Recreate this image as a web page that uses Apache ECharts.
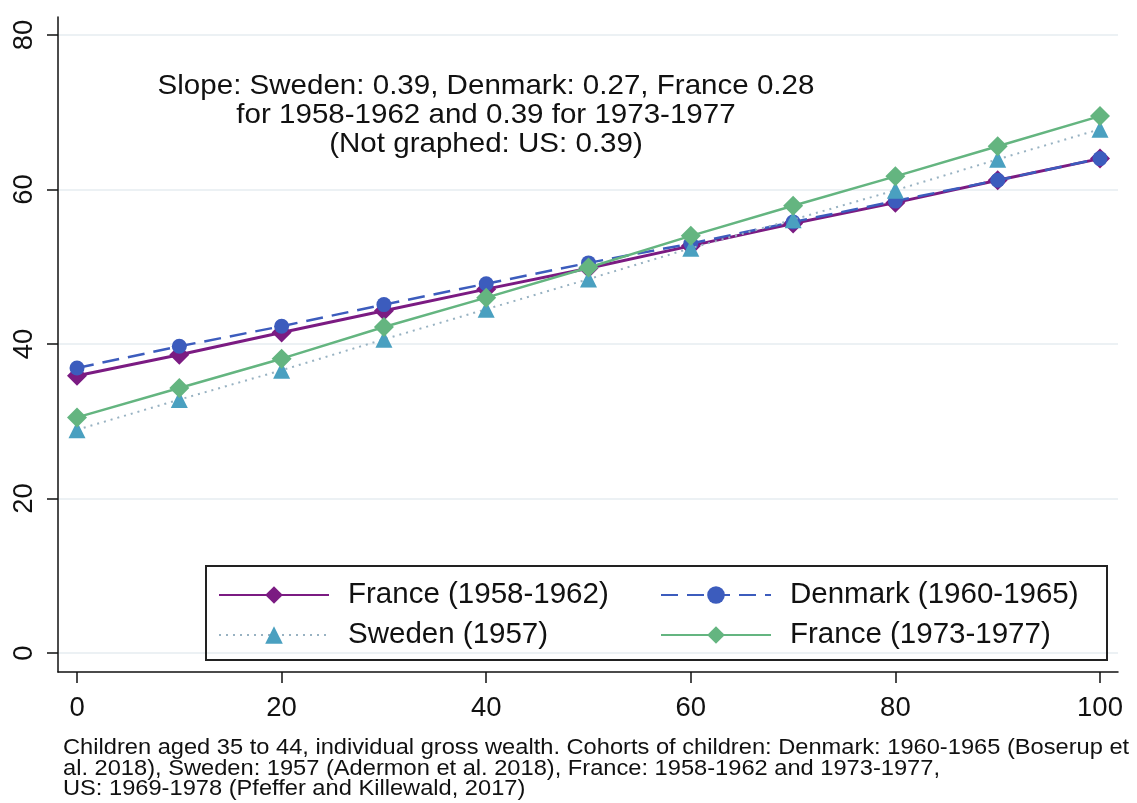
<!DOCTYPE html>
<html>
<head>
<meta charset="utf-8">
<script src="https://cdn.jsdelivr.net/npm/echarts@6/dist/echarts.min.js"></script>
<style>
  html, body { margin: 0; padding: 0; background: #fff; }
  #chart { width: 1137px; height: 803px; }
</style>
</head>
<body>
<div id="chart"></div>
<script>
// parent rank (percentile) on x, child rank on y
var xValues = [0, 10, 20, 30, 40, 50, 60, 70, 80, 90, 100];
var france5862 = [35.9, 38.6, 41.5, 44.3, 47.1, 49.8, 52.7, 55.6, 58.3, 61.2, 64.0];
var denmark = [36.9, 39.7, 42.3, 45.1, 47.8, 50.5, 53.0, 55.8, 58.5, 61.2, 64.0];
var sweden = [28.9, 32.8, 36.6, 40.6, 44.5, 48.4, 52.4, 56.1, 59.9, 63.9, 67.8];
var france7377 = [30.5, 34.3, 38.1, 42.2, 46.0, 49.9, 54.0, 57.9, 61.7, 65.6, 69.5];
var xTicks = [0, 20, 40, 60, 80, 100];
var yTicks = [0, 20, 40, 60, 80];

var names = ['France (1958-1962)', 'Denmark (1960-1965)', 'Sweden (1957)', 'France (1973-1977)'];
var noteLines = [
    'Slope: Sweden: 0.39, Denmark: 0.27, France 0.28',
    'for 1958-1962 and 0.39 for 1973-1977',
    '(Not graphed: US: 0.39)'
];
var footLines = [
    'Children aged 35 to 44, individual gross wealth. Cohorts of children: Denmark: 1960-1965 (Boserup et',
    'al. 2018), Sweden: 1957 (Adermon et al. 2018), France: 1958-1962 and 1973-1977,',
    'US: 1969-1978 (Pfeffer and Killewald, 2017)'
];

function pairs(ys) {
    return xValues.map(function (x, i) { return [x, ys[i]]; });
}

var font = 'Liberation Sans, Arial, sans-serif';
var chart = echarts.init(document.getElementById('chart'));

var legendBase = {
    orient: 'vertical',
    top: 575,
    itemWidth: 110,
    itemHeight: 22,
    itemGap: 10,
    textStyle: { fontSize: 29.5, color: '#111', fontFamily: font, padding: [0, 0, 0, 14] }
};

chart.setOption({
    animation: false,
    backgroundColor: '#fff',
    grid: { left: 58, right: 19, top: 17, bottom: 131, containLabel: false },
    xAxis: {
        type: 'value',
        min: -1.86,
        max: 101.76,
        axisLine: { onZero: false, lineStyle: { color: '#111', width: 1.5 } },
        axisTick: { show: true, length: 11, customValues: xTicks, lineStyle: { color: '#111', width: 1.5 } },
        axisLabel: { customValues: xTicks, margin: 22, fontSize: 27.5, color: '#111', fontFamily: font },
        splitLine: { show: false }
    },
    yAxis: {
        type: 'value',
        min: -2.46,
        max: 82.33,
        axisLine: { show: true, onZero: false, lineStyle: { color: '#111', width: 1.5 } },
        axisTick: { show: true, length: 11, customValues: yTicks, lineStyle: { color: '#111', width: 1.5 } },
        axisLabel: { customValues: yTicks, rotate: 90, margin: 20, fontSize: 27.5, color: '#111', fontFamily: font },
        splitLine: { show: true, lineStyle: { color: '#e6edf0', width: 1.5 } }
    },
    legend: [
        Object.assign({ data: [names[0], names[2]], left: 213 }, legendBase),
        Object.assign({ data: [names[1], names[3]], left: 655 }, legendBase)
    ],
    graphic: [
        {
            type: 'rect',
            shape: { x: 206, y: 566, width: 901, height: 94 },
            style: { fill: 'rgba(0,0,0,0)', stroke: '#222', lineWidth: 2 },
            z: 10
        },
        {
            type: 'text',
            x: 486,
            y: 72,
            scaleX: 1.055,
            style: {
                text: noteLines.join('\n'),
                font: '28px ' + font,
                fill: '#111',
                align: 'center',
                lineHeight: 29
            }
        },
        {
            type: 'text',
            x: 63,
            y: 738,
            scaleX: 1.075,
            style: {
                text: footLines.join('\n'),
                font: '22px ' + font,
                fill: '#111',
                align: 'left',
                lineHeight: 20.5
            }
        }
    ],
    series: [
        {
            name: names[0],
            type: 'line',
            data: pairs(france5862),
            symbol: 'diamond',
            symbolSize: 20,
            itemStyle: { color: '#7b1b82' },
            lineStyle: { color: '#7b1b82', width: 3 },
            z: 2
        },
        {
            name: names[1],
            type: 'line',
            data: pairs(denmark),
            symbol: 'circle',
            symbolSize: 15,
            itemStyle: { color: '#3c5cbd' },
            lineStyle: { color: '#3c5cbd', width: 2.5, type: [17, 9] },
            z: 3
        },
        {
            name: names[2],
            type: 'line',
            data: pairs(sweden),
            symbol: 'triangle',
            symbolSize: 17,
            itemStyle: { color: '#4aa0c0' },
            lineStyle: { color: '#98b2c2', width: 2, type: [2, 5] },
            z: 4
        },
        {
            name: names[3],
            type: 'line',
            data: pairs(france7377),
            symbol: 'diamond',
            symbolSize: 20,
            itemStyle: { color: '#64b580' },
            lineStyle: { color: '#64b580', width: 2.5 },
            z: 5
        }
    ]
});
</script>
</body>
</html>
